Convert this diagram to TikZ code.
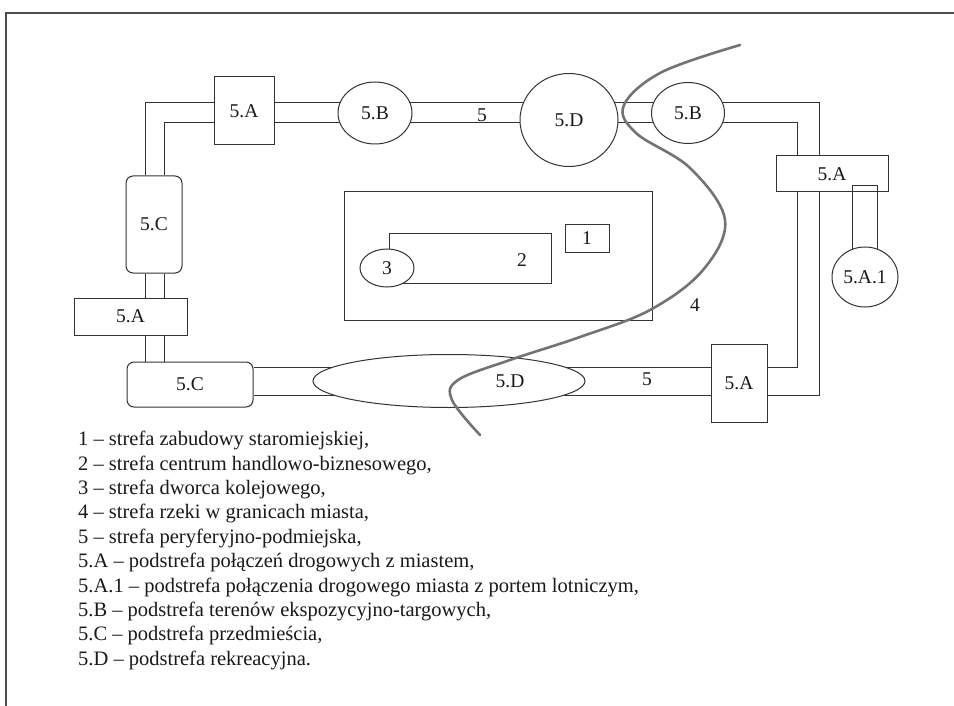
\documentclass[tikz,border=0pt]{standalone}
\usepackage{fontspec}
\setmainfont{Liberation Serif}
\usetikzlibrary{shapes.geometric,backgrounds}

\begin{document}
\begin{tikzpicture}[
    x=1pt, y=-1pt,
    font=\fontsize{19.5}{23}\selectfont,
    zone/.style={draw=black!80, fill=white, line width=1pt, inner sep=0pt, text=black!90},
    hub/.style={zone, ellipse},
    suburb/.style={zone, rounded corners=7pt},
    road/.style={draw=black!80, line width=1pt},
    river/.style={draw=black!55, line width=2.6pt, line cap=round}
]
    \useasboundingbox (0,0) rectangle (954,706);
    % Frame
    \draw[black!70, line width=1.4pt] (954,13) -- (6,13) -- (6,706);

    % Ring of subzones
    \node[zone, minimum width=60pt, minimum height=68pt] (a1) at (244,111) {5.A};
    \node[hub, minimum width=74pt, minimum height=62pt] (b1) at (375,113) {5.B};
    \node[hub, minimum width=98pt, minimum height=93pt] (d1) at (569,120) {5.D};
    \node[hub, minimum width=73pt, minimum height=61pt] (b2) at (688,113) {5.B};
    \node[zone, minimum width=112pt, minimum height=36pt] (a2) at (832,174) {5.A};
    \node[hub, minimum width=66pt, minimum height=60pt] (a3) at (865,277) {5.A.1};
    \node[zone, minimum width=56pt, minimum height=78pt] (a4) at (739,383) {5.A};
    \node[hub, minimum width=272pt, minimum height=53pt,
          label={[xshift=61pt, text=black!90]center:5.D}] (d2) at (449,381) {};
    \node[suburb, minimum width=126pt, minimum height=45pt] (c2) at (190,384.5) {5.C};
    \node[zone, minimum width=113pt, minimum height=37pt] (a5) at (130.5,316.5) {5.A};
    \node[suburb, minimum width=56pt, minimum height=97pt] (c1) at (154,224.5) {5.C};

    % Ring road, outer and inner rail
    \coordinate (tlo) at (145,103);
    \coordinate (tli) at (164,123);
    \coordinate (tro) at (819,103);
    \coordinate (tri) at (797,123);
    \coordinate (bro) at (819,395);
    \coordinate (bri) at (797,367);
    \begin{scope}[on background layer]
        \draw[road] (c1.north -| tlo) -- (tlo) -- (tro) -- (tro |- a2.north);
        \draw[road] (c1.north -| tli) -- (tli) -- (tri) -- (tri |- a2.north);
        \draw[road] (tro |- a2.south) -- (bro) -- (bro -| c2.east);
        \draw[road] (tri |- a2.south) -- (bri) -- (bri -| c2.east);
        \draw[road] (c1.south -| tlo) -- (c2.north -| tlo);
        \draw[road] (c1.south -| tli) -- (c2.north -| tli);
    \end{scope}
    \node[text=black!90] (r1) at (482,115) {5};
    \node[text=black!90] (r2) at (647,379) {5};

    % Airport link
    \coordinate (uc) at (865,186);
    \draw[road] (a3.113) -- (a3.113 |- uc) -- (a3.67 |- uc) -- (a3.67);

    % City centre
    \node[zone, minimum width=308pt, minimum height=128pt] (city) at (498,256) {};
    \node[zone, minimum width=162pt, minimum height=49pt,
          label={[xshift=52pt, yshift=-2pt, text=black!90]center:2}] (cbd) at (470,258.5) {};
    \node[hub, minimum width=54pt, minimum height=38pt] (rail) at (387,268) {3};
    \node[zone, minimum width=44pt, minimum height=27pt] (old) at (587,238.5) {1};
    \node[text=black!90] (z4) at (695,305) {4};

    % River
    \draw[river] plot[smooth, tension=0.6] coordinates {(740,45) (662,72) (624,105)
        (636,133) (690,168) (725,220) (703,270) (650,310) (580,337) (510,360)
        (458,380) (452,400) (480,435)};

    % Legend
    \node[anchor=north west, align=left, inner sep=0pt, text=black!90,
          font=\fontsize{20.5}{24.4}\selectfont] (legend) at (78,431) {%
        1 – strefa zabudowy staromiejskiej,\\
        2 – strefa centrum handlowo-biznesowego,\\
        3 – strefa dworca kolejowego,\\
        4 – strefa rzeki w granicach miasta,\\
        5 – strefa peryferyjno-podmiejska,\\
        5.A – podstrefa połączeń drogowych z miastem,\\
        5.A.1 – podstrefa połączenia drogowego miasta z portem lotniczym,\\
        5.B – podstrefa terenów ekspozycyjno-targowych,\\
        5.C – podstrefa przedmieścia,\\
        5.D – podstrefa rekreacyjna.};
\end{tikzpicture}
\end{document}
